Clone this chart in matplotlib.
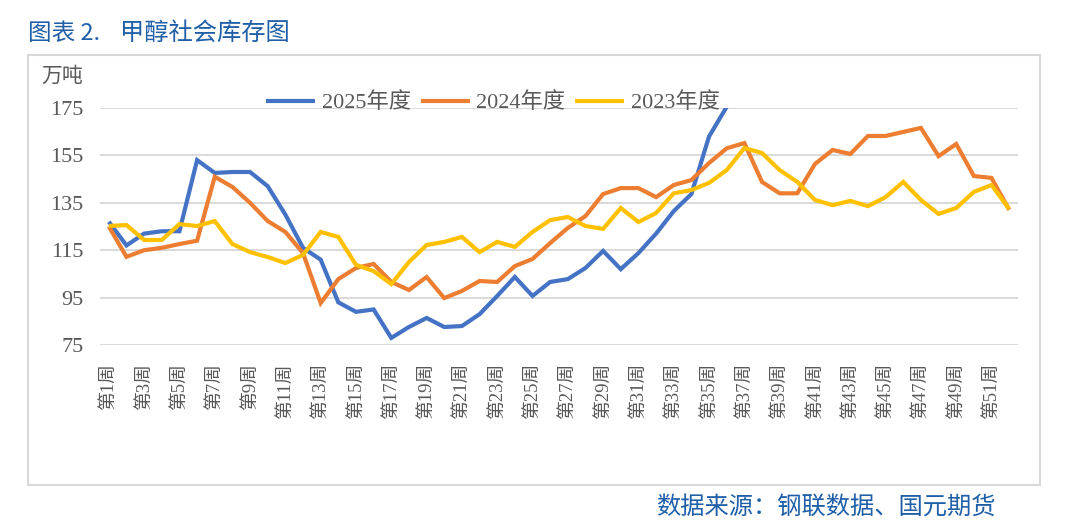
import matplotlib
matplotlib.use("Agg")
import matplotlib.pyplot as plt
from matplotlib.patches import Rectangle

weeks = [f"第{i}周" for i in range(1, 53)]

s2025 = [127, 117, 122, 123, 123, 153, 147.6, 148, 148, 142, 130, 116, 111, 93, 89, 90,
         78, 82.6, 86.4, 82.6, 83, 88, 95.7, 103.7, 95.7, 101.6, 102.8, 107.5, 114.7, 107,
         113.8, 122, 131.5, 138.7, 163, 175.5]
s2024 = [125, 112.2, 115, 116, 117.6, 119, 146, 141.7, 135, 127.3, 122.7, 113.8, 92.7, 102.8,
         107.5, 109.2, 101.6, 98.2, 103.7, 94.8, 97.8, 102, 101.6, 108.3, 111.3, 118, 124.4,
         129.4, 138.7, 141.2, 141.2, 137.4, 142.5, 144.6, 151.8, 158, 160.2, 143.8, 139, 139,
         151.4, 157.3, 155.6, 163.2, 163.2, 164.9, 166.6, 154.7, 159.8, 146.3, 145.5, 132]
s2023 = [125.2, 125.6, 119.3, 119.3, 126, 125.2, 127.3, 117.6, 114.2, 112.1, 109.6, 113, 122.7,
         120.6, 108.8, 106.2, 100.7, 110, 117.2, 118.5, 120.6, 114.2, 118.5, 116.4, 122.7, 127.7,
         129, 125.2, 124, 132.8, 126.9, 130.7, 139, 140.4, 143.4, 148.8, 158.1, 156, 148.8, 143.8,
         136.2, 134, 135.8, 133.6, 137.4, 143.8, 136.2, 130.3, 132.8, 139.6, 142.5, 132.4]
series_names = ["2025年度", "2024年度", "2023年度"]
yticks = [75, 95, 115, 135, 155, 175]

colors = ["#4472C4", "#ED7D31", "#FFC000"]
gray = "#595959"
mixfont = ["Liberation Serif", "Noto Sans CJK SC"]
cjk = ["Noto Sans CJK SC", "DejaVu Sans"]

fig = plt.figure(figsize=(10.8, 5.32), dpi=100)
W, H = 1080, 532

# outer frame
fig.patches.append(Rectangle((28 / W, 1 - 485 / H), (1040 - 28) / W, (485 - 55) / H,
                             transform=fig.transFigure, fill=False, edgecolor="#D9D9D9",
                             linewidth=1.5))

ax = fig.add_axes([100 / W, 1 - 345 / H, 918 / W, 237 / H])
x = list(range(len(weeks)))
for vals, name, c in zip([s2025, s2024, s2023], series_names, colors):
    ax.plot(x[:len(vals)], vals, color=c, lw=3.0, label=name, solid_joinstyle="miter",
            solid_capstyle="butt")

ax.set_xlim(-0.5, len(weeks) - 0.5)
ax.set_ylim(75, 175)
ax.set_yticks(yticks)
ax.set_yticklabels([str(v) for v in yticks], family=mixfont, fontsize=16, color=gray)
ax.set_xticks(x[::2])
ax.set_xticklabels(weeks[::2], rotation=90, family=mixfont, fontsize=13.5, color=gray,
                   va="top", ha="center")
ax.tick_params(axis="both", length=0)
ax.tick_params(axis="y", pad=12)
ax.tick_params(axis="x", pad=13)
ax.yaxis.grid(True, color="#D9D9D9", lw=1.4)
ax.set_axisbelow(True)
for sp in ax.spines.values():
    sp.set_visible(False)

leg = ax.legend(loc="center", bbox_to_anchor=(493 / W, 1 - 103 / H),
                bbox_transform=fig.transFigure, ncol=3, frameon=False,
                prop={"family": mixfont, "size": 16}, handlelength=2.2,
                handletextpad=0.3, columnspacing=0.45, borderaxespad=0)
for t in leg.get_texts():
    t.set_color(gray)

fig.text(62 / W, 1 - 77 / H, "万吨", family=mixfont, fontsize=15, color=gray,
         ha="center", va="center")
fig.text(28 / W, 1 - 33 / H, "图表 2.", family=cjk, fontsize=17,
         color="#1F5FA8", ha="left", va="center")
fig.text(120 / W, 1 - 33 / H, "甲醇社会库存图", family=cjk, fontsize=17.5,
         color="#1F5FA8", ha="left", va="center")
fig.text(996 / W, 1 - 508 / H, "数据来源：钢联数据、国元期货", family=cjk, fontsize=17.5,
         color="#1F5FA8", ha="right", va="center")

fig.savefig("out.png", dpi=100)
